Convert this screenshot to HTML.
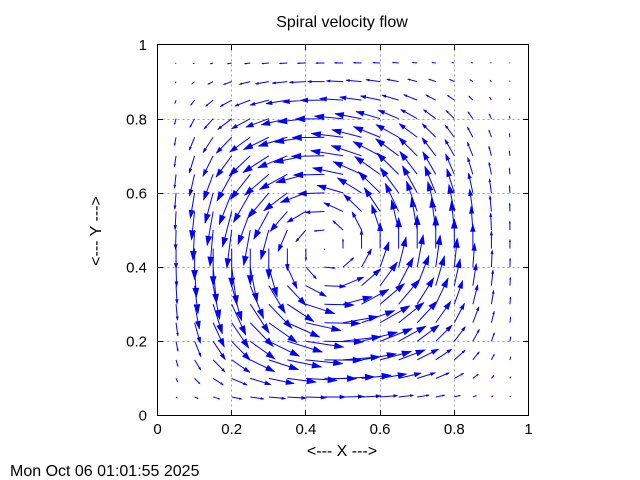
<!DOCTYPE html>
<html>
<head>
<meta charset="utf-8">
<style>
  html, body { margin:0; padding:0; background:#fff; }
  body { width:640px; height:480px; overflow:hidden; position:relative; }
  svg { position:absolute; left:0; top:0; }
  text { font-family: "Liberation Sans", Arial, sans-serif; fill:#000; }
</style>
</head>
<body>
<svg id="plot" width="640" height="480" viewBox="0 0 640 480" xmlns="http://www.w3.org/2000/svg">
  <rect x="0" y="0" width="640" height="480" fill="#fff"/>
  <!-- grid -->
  <g stroke="#a0a0a0" stroke-width="1" stroke-dasharray="2,3" shape-rendering="crispEdges">
    <line x1="231.5" y1="44.5" x2="231.5" y2="415.5"/>
    <line x1="305.5" y1="44.5" x2="305.5" y2="415.5"/>
    <line x1="380.5" y1="44.5" x2="380.5" y2="415.5"/>
    <line x1="454.5" y1="44.5" x2="454.5" y2="415.5"/>
    <line x1="157.5" y1="341.5" x2="528.5" y2="341.5"/>
    <line x1="157.5" y1="267.5" x2="528.5" y2="267.5"/>
    <line x1="157.5" y1="193.5" x2="528.5" y2="193.5"/>
    <line x1="157.5" y1="119.5" x2="528.5" y2="119.5"/>
  </g>
  <g id="arrows"></g>
  <!-- ticks -->
  <g stroke="#000" stroke-width="1" shape-rendering="crispEdges">
    <line x1="231.5" y1="415.5" x2="231.5" y2="410"/>
    <line x1="305.5" y1="415.5" x2="305.5" y2="410"/>
    <line x1="380.5" y1="415.5" x2="380.5" y2="410"/>
    <line x1="454.5" y1="415.5" x2="454.5" y2="410"/>
    <line x1="231.5" y1="44.5" x2="231.5" y2="50"/>
    <line x1="305.5" y1="44.5" x2="305.5" y2="50"/>
    <line x1="380.5" y1="44.5" x2="380.5" y2="50"/>
    <line x1="454.5" y1="44.5" x2="454.5" y2="50"/>
    <line x1="157.5" y1="341.5" x2="163" y2="341.5"/>
    <line x1="157.5" y1="267.5" x2="163" y2="267.5"/>
    <line x1="157.5" y1="193.5" x2="163" y2="193.5"/>
    <line x1="157.5" y1="119.5" x2="163" y2="119.5"/>
    <line x1="528.5" y1="341.5" x2="523" y2="341.5"/>
    <line x1="528.5" y1="267.5" x2="523" y2="267.5"/>
    <line x1="528.5" y1="193.5" x2="523" y2="193.5"/>
    <line x1="528.5" y1="119.5" x2="523" y2="119.5"/>
  </g>
  <!-- frame -->
  <rect x="157.5" y="44.5" width="371" height="371" fill="none" stroke="#000" stroke-width="1" shape-rendering="crispEdges"/>
  <!-- title -->
  <text x="342" y="27" font-size="16" text-anchor="middle">Spiral velocity flow</text>
  <!-- x tick labels -->
  <g font-size="15" text-anchor="middle">
    <text x="157.5" y="434">0</text>
    <text x="231.7" y="434">0.2</text>
    <text x="305.9" y="434">0.4</text>
    <text x="380.1" y="434">0.6</text>
    <text x="454.3" y="434">0.8</text>
    <text x="528.5" y="434">1</text>
  </g>
  <!-- y tick labels -->
  <g font-size="15" text-anchor="end">
    <text x="147" y="420.5">0</text>
    <text x="147" y="346.5">0.2</text>
    <text x="147" y="272.5">0.4</text>
    <text x="147" y="198.5">0.6</text>
    <text x="147" y="124.5">0.8</text>
    <text x="147" y="50">1</text>
  </g>
  <!-- axis labels -->
  <text x="342" y="456" font-size="16" text-anchor="middle">&lt;--- X ---&gt;</text>
  <text x="0" y="0" font-size="16" text-anchor="middle" transform="translate(101,231) rotate(-90)">&lt;--- Y ---&gt;</text>
  <!-- timestamp -->
  <text x="10" y="476" font-size="16">Mon Oct 06 01:01:55 2025</text>
</svg>
<script>
(function(){
  var NS = "http://www.w3.org/2000/svg";
  var g = document.getElementById("arrows");
  var cx = 0.455, cy = 0.45;
  var px = Math.log(0.5)/Math.log(cx), py = Math.log(0.5)/Math.log(cy);
  function S(t,p){ var w=Math.pow(t,p); var s=Math.sin(Math.PI*w); return s*s; }
  function dS(t,p){ var w=Math.pow(t,p); return Math.PI*Math.sin(2*Math.PI*w)*p*Math.pow(t,p-1); }
  var K = 11.5;
  var lines = "", polys = "";
  for (var i=1;i<=19;i++){
    for (var j=1;j<=19;j++){
      var x=i*0.05, y=j*0.05;
      var u = K*S(x,px)*dS(y,py);
      var v = -K*dS(x,px)*S(y,py);
      var X0 = 157.5 + 371*x, Y0 = 415.5 - 371*y;
      var dx = u, dy = -v;
      var L = Math.sqrt(dx*dx+dy*dy);
      if (L < 0.05) continue;
      var X1 = X0+dx, Y1 = Y0+dy;
      var ux = dx/L, uy = dy/L;
      var h = Math.min(9, Math.max(0.2*L, 0.5*(L-10)));
      var hw = h*0.33;
      var bx = X1 - ux*h, by = Y1 - uy*h;
      lines += "M"+X0.toFixed(2)+" "+Y0.toFixed(2)+"L"+X1.toFixed(2)+" "+Y1.toFixed(2);
      polys += "M"+X1.toFixed(2)+" "+Y1.toFixed(2)+
               "L"+(bx - uy*hw).toFixed(2)+" "+(by + ux*hw).toFixed(2)+
               "L"+(bx + uy*hw).toFixed(2)+" "+(by - ux*hw).toFixed(2)+"Z";
    }
  }
  var p1 = document.createElementNS(NS,"path");
  p1.setAttribute("d", lines);
  p1.setAttribute("stroke","#0000ff");
  p1.setAttribute("stroke-width","1");
  p1.setAttribute("fill","none");
  g.appendChild(p1);
  var p2 = document.createElementNS(NS,"path");
  p2.setAttribute("d", polys);
  p2.setAttribute("stroke","#0000ff");
  p2.setAttribute("stroke-width","0.6");
  p2.setAttribute("fill","#0000ff");
  g.appendChild(p2);
})();
</script>
</body>
</html>
